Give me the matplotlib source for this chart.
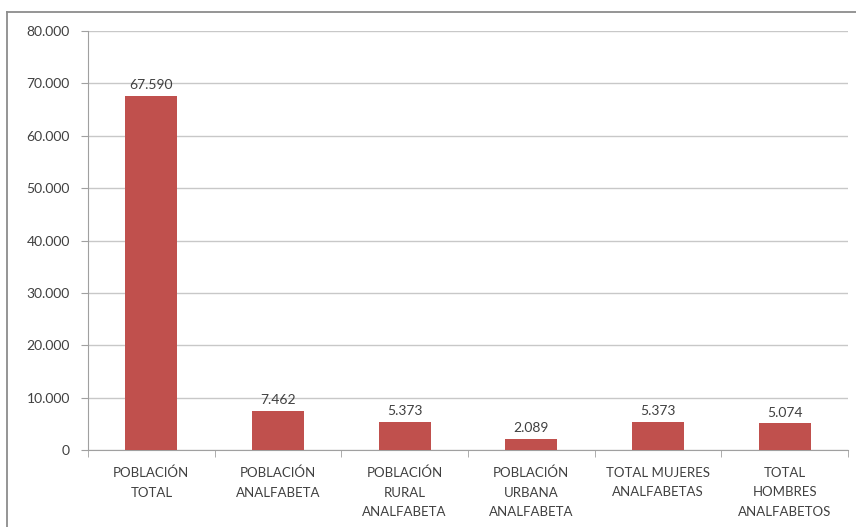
import matplotlib
matplotlib.use("Agg")
import matplotlib.pyplot as plt
from matplotlib.lines import Line2D
import numpy as np

categories = ["POBLACIÓN\nTOTAL", "POBLACIÓN\nANALFABETA", "POBLACIÓN\nRURAL\nANALFABETA",
              "POBLACIÓN\nURBANA\nANALFABETA", "TOTAL MUJERES\nANALFABETAS", "TOTAL\nHOMBRES\nANALFABETOS"]
values = [67590, 7462, 5373, 2089, 5373, 5074]
yticks = [0, 10000, 20000, 30000, 40000, 50000, 60000, 70000, 80000]

def fmt(v):
    return f"{v:,.0f}".replace(",", ".")

plt.rcParams['font.family'] = ['Lato', 'DejaVu Sans']
fig = plt.figure(figsize=(8.56, 5.27), dpi=100)
# outer chart border (only top and left visible in the reference crop)
fig.lines.append(Line2D([7/856, 7/856], [0, 1-12/527], transform=fig.transFigure,
                        color='#8c8c8c', linewidth=1.3))
fig.lines.append(Line2D([7/856, 1], [1-12/527, 1-12/527], transform=fig.transFigure,
                        color='#8c8c8c', linewidth=1.3))
ax = fig.add_axes([88/856, 1-450/527, 760/856, 419/527])
x = np.arange(len(values))
ax.bar(x, values, width=0.41, color='#C0504D', zorder=3)
for xi, v in zip(x, values):
    ax.text(xi, v + 900, fmt(v), ha='center', va='bottom', fontsize=10, color='#404040')
ax.set_xlim(-0.5, len(values) - 0.5)
ax.set_ylim(0, 80000)
ax.set_yticks(yticks)
ax.set_yticklabels([fmt(t) for t in yticks], fontsize=10, color='#404040')
ax.yaxis.grid(True, color='#c8c8c8', linewidth=1)
ax.set_axisbelow(True)
ax.set_xticks(x)
ax.set_xticklabels(categories, fontsize=9.5, color='#404040', linespacing=1.75)
ax.tick_params(axis='x', length=0, pad=12)
ax.set_xticks(np.arange(-0.5, len(values)), minor=True)
ax.tick_params(axis='x', which='minor', length=5, color='#a0a0a0')
ax.tick_params(axis='y', length=5, color='#a0a0a0', pad=8)
for s in ['top', 'right']:
    ax.spines[s].set_visible(False)
ax.spines['left'].set_color('#a0a0a0')
ax.spines['bottom'].set_color('#a0a0a0')
fig.savefig("out.png", dpi=100)
